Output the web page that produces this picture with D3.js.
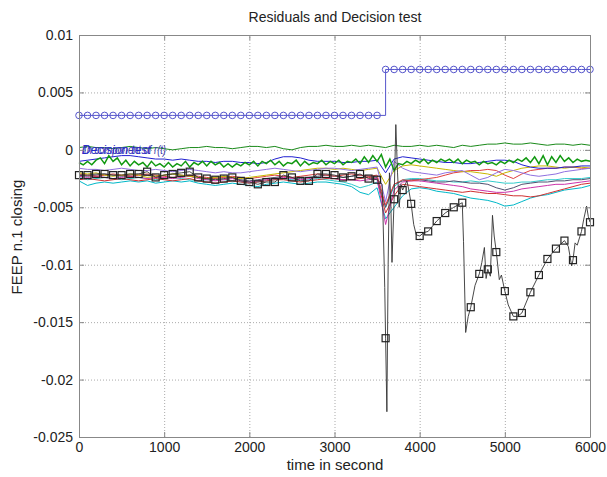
<!DOCTYPE html>
<html>
<head>
<meta charset="utf-8">
<script src="https://d3js.org/d3.v7.min.js"></script>
<style>
  body { margin: 0; background: #fff; }
  svg text { font-family: "Liberation Sans", Arial, sans-serif; }
</style>
</head>
<body>
<script>
// time base for the residual curves (every 100 s)
var timeSec = d3.range(0, 6001, 100);
// noisy green curve sampled every 50 s
var timeFine = d3.range(0, 6001, 50);

// decision test: 0.003 before the fault, 0.007 after
var decisionVal = timeSec.map(function(t){ return t < 3600 ? 0.003 : 0.007; });

var resDarkGreen = [0.0002,0.0003,0.0002,0.0002,0.0001,0.0002,0.0003,0.0002,0.0001,0.0002,
  0.0001,0.0000,0.0001,0.0002,0.0002,0.0003,0.0002,0.0002,0.0001,0.0002,
  0.0003,0.0003,0.0002,0.0003,0.0001,0.0000,0.0002,0.0003,0.0003,0.0004,
  0.0003,0.0003,0.0004,0.0003,0.0004,0.0003,0.0002,0.0004,0.0003,0.0003,
  0.0004,0.0003,0.0004,0.0003,0.0002,0.0004,0.0003,0.0004,0.0005,0.0005,
  0.0006,0.0005,0.0005,0.0006,0.0005,0.0004,0.0005,0.0005,0.0004,0.0005,0.0004];

var resGreen = [-0.0011,-0.0013,-0.0010,-0.0013,-0.0009,-0.0007,-0.0012,-0.0005,-0.0010,-0.0007,-0.0013,-0.0009,-0.0014,-0.0010,-0.0013,-0.0011,-0.0015,-0.0010,-0.0014,-0.0012,
  -0.0015,-0.0011,-0.0015,-0.0012,-0.0014,-0.0010,-0.0015,-0.0011,-0.0013,-0.0010,-0.0014,-0.0010,-0.0013,-0.0011,-0.0015,-0.0012,-0.0015,-0.0012,-0.0014,-0.0011,
  -0.0013,-0.0010,-0.0014,-0.0010,-0.0012,-0.0009,-0.0013,-0.0010,-0.0014,-0.0011,-0.0012,-0.0009,-0.0014,-0.0010,-0.0013,-0.0011,-0.0012,-0.0009,-0.0013,-0.0010,
  -0.0012,-0.0009,-0.0013,-0.0010,-0.0011,-0.0008,-0.0012,-0.0006,-0.0011,-0.0005,-0.0010,-0.0004,-0.0015,-0.0008,-0.0018,-0.0012,-0.0013,-0.0010,-0.0012,-0.0009,
  -0.0011,-0.0008,-0.0012,-0.0009,-0.0011,-0.0008,-0.0010,-0.0008,-0.0011,-0.0008,-0.0012,-0.0009,-0.0011,-0.0010,-0.0013,-0.0010,-0.0012,-0.0011,-0.0013,-0.0010,
  -0.0012,-0.0009,-0.0011,-0.0008,-0.0010,-0.0007,-0.0011,-0.0006,-0.0012,-0.0005,-0.0013,-0.0006,-0.0011,-0.0005,-0.0010,-0.0007,-0.0011,-0.0008,-0.0010,-0.0009,
  -0.0010];

var resBlue = [-0.0010,-0.0009,-0.0008,-0.0007,-0.0006,-0.0005,-0.0005,-0.0006,-0.0007,-0.0008,
  -0.0008,-0.0009,-0.0008,-0.0009,-0.0010,-0.0010,-0.0011,-0.0010,-0.0010,-0.0011,
  -0.0011,-0.0012,-0.0011,-0.0008,-0.0006,-0.0006,-0.0007,-0.0009,-0.0010,-0.0010,
  -0.0010,-0.0011,-0.0011,-0.0010,-0.0010,-0.0009,-0.0020,-0.0008,-0.0006,-0.0007,
  -0.0008,-0.0009,-0.0010,-0.0011,-0.0011,-0.0012,-0.0012,-0.0011,-0.0010,-0.0009,
  -0.0009,-0.0010,-0.0013,-0.0015,-0.0016,-0.0016,-0.0016,-0.0015,-0.0015,-0.0014,-0.0014];

var resPurple = [-0.0016,-0.0017,-0.0017,-0.0018,-0.0017,-0.0016,-0.0017,-0.0018,-0.0018,-0.0017,
  -0.0018,-0.0019,-0.0018,-0.0017,-0.0018,-0.0019,-0.0020,-0.0019,-0.0020,-0.0020,
  -0.0019,-0.0018,-0.0017,-0.0016,-0.0017,-0.0018,-0.0019,-0.0018,-0.0017,-0.0016,
  -0.0016,-0.0017,-0.0018,-0.0017,-0.0016,-0.0015,-0.0045,-0.0010,-0.0016,-0.0019,
  -0.0020,-0.0021,-0.0022,-0.0020,-0.0019,-0.0018,-0.0022,-0.0026,-0.0024,-0.0020,
  -0.0017,-0.0018,-0.0020,-0.0022,-0.0023,-0.0022,-0.0021,-0.0019,-0.0018,-0.0017,-0.0016];

var resYellow = [-0.0020,-0.0021,-0.0020,-0.0022,-0.0023,-0.0022,-0.0021,-0.0022,-0.0024,-0.0023,
  -0.0022,-0.0021,-0.0022,-0.0023,-0.0024,-0.0025,-0.0024,-0.0023,-0.0024,-0.0025,
  -0.0024,-0.0023,-0.0022,-0.0021,-0.0020,-0.0019,-0.0018,-0.0017,-0.0016,-0.0016,
  -0.0017,-0.0016,-0.0017,-0.0018,-0.0017,-0.0016,-0.0030,-0.0018,-0.0014,-0.0013,
  -0.0014,-0.0015,-0.0016,-0.0017,-0.0018,-0.0019,-0.0019,-0.0020,-0.0021,-0.0023,
  -0.0020,-0.0018,-0.0016,-0.0015,-0.0014,-0.0014,-0.0015,-0.0016,-0.0015,-0.0015,-0.0016];

var resRed = [-0.0026,-0.0025,-0.0026,-0.0027,-0.0026,-0.0025,-0.0026,-0.0027,-0.0026,-0.0025,
  -0.0026,-0.0027,-0.0026,-0.0025,-0.0027,-0.0028,-0.0029,-0.0028,-0.0027,-0.0028,
  -0.0029,-0.0028,-0.0027,-0.0026,-0.0026,-0.0027,-0.0028,-0.0027,-0.0026,-0.0025,
  -0.0025,-0.0026,-0.0026,-0.0025,-0.0024,-0.0025,-0.0055,-0.0040,-0.0030,-0.0031,
  -0.0032,-0.0033,-0.0034,-0.0035,-0.0036,-0.0037,-0.0036,-0.0037,-0.0038,-0.0038,
  -0.0039,-0.0040,-0.0040,-0.0041,-0.0040,-0.0038,-0.0036,-0.0034,-0.0032,-0.0030,-0.0029];

var resRed2 = [-0.0021,-0.0022,-0.0023,-0.0022,-0.0021,-0.0022,-0.0023,-0.0022,-0.0021,-0.0022,
  -0.0023,-0.0024,-0.0023,-0.0022,-0.0023,-0.0024,-0.0025,-0.0024,-0.0023,-0.0024,
  -0.0025,-0.0024,-0.0023,-0.0022,-0.0023,-0.0024,-0.0023,-0.0022,-0.0021,-0.0022,
  -0.0023,-0.0022,-0.0021,-0.0022,-0.0023,-0.0022,-0.0048,-0.0030,-0.0026,-0.0027,
  -0.0026,-0.0025,-0.0024,-0.0022,-0.0020,-0.0019,-0.0018,-0.0018,-0.0017,-0.0018,
  -0.0022,-0.0025,-0.0021,-0.0018,-0.0017,-0.0016,-0.0016,-0.0015,-0.0015,-0.0016,-0.0016];

var resCyan = [-0.0027,-0.0031,-0.0029,-0.0028,-0.0029,-0.0028,-0.0027,-0.0028,-0.0027,-0.0029,
  -0.0028,-0.0027,-0.0028,-0.0027,-0.0029,-0.0030,-0.0031,-0.0030,-0.0029,-0.0030,
  -0.0031,-0.0032,-0.0030,-0.0029,-0.0028,-0.0029,-0.0030,-0.0029,-0.0028,-0.0028,
  -0.0029,-0.0030,-0.0032,-0.0037,-0.0039,-0.0033,-0.0060,-0.0050,-0.0040,-0.0034,
  -0.0033,-0.0034,-0.0036,-0.0037,-0.0038,-0.0040,-0.0042,-0.0043,-0.0044,-0.0046,
  -0.0049,-0.0048,-0.0045,-0.0042,-0.0040,-0.0039,-0.0037,-0.0035,-0.0034,-0.0033,-0.0031];

var resCyan2 = [-0.0024,-0.0026,-0.0025,-0.0024,-0.0025,-0.0026,-0.0025,-0.0024,-0.0025,-0.0026,
  -0.0025,-0.0024,-0.0025,-0.0026,-0.0027,-0.0026,-0.0025,-0.0026,-0.0027,-0.0028,
  -0.0029,-0.0028,-0.0027,-0.0026,-0.0025,-0.0026,-0.0027,-0.0026,-0.0025,-0.0026,
  -0.0027,-0.0028,-0.0030,-0.0033,-0.0031,-0.0028,-0.0050,-0.0032,-0.0026,-0.0025,
  -0.0025,-0.0026,-0.0027,-0.0027,-0.0028,-0.0028,-0.0027,-0.0028,-0.0027,-0.0028,
  -0.0029,-0.0029,-0.0028,-0.0028,-0.0027,-0.0026,-0.0026,-0.0025,-0.0025,-0.0025,-0.0024];

var resMagenta = [-0.0023,-0.0024,-0.0023,-0.0024,-0.0025,-0.0024,-0.0023,-0.0024,-0.0025,-0.0024,
  -0.0024,-0.0025,-0.0024,-0.0023,-0.0025,-0.0026,-0.0027,-0.0026,-0.0025,-0.0027,
  -0.0028,-0.0027,-0.0026,-0.0025,-0.0024,-0.0025,-0.0026,-0.0025,-0.0024,-0.0024,
  -0.0025,-0.0026,-0.0026,-0.0027,-0.0026,-0.0025,-0.0065,-0.0035,-0.0028,-0.0027,
  -0.0027,-0.0028,-0.0029,-0.0030,-0.0031,-0.0032,-0.0034,-0.0035,-0.0036,-0.0037,
  -0.0037,-0.0036,-0.0034,-0.0033,-0.0032,-0.0031,-0.0030,-0.0030,-0.0029,-0.0028,-0.0027];

var resGrey = [-0.0022,-0.0023,-0.0022,-0.0021,-0.0022,-0.0023,-0.0022,-0.0021,-0.0022,-0.0023,
  -0.0022,-0.0021,-0.0022,-0.0023,-0.0024,-0.0025,-0.0024,-0.0023,-0.0024,-0.0026,
  -0.0027,-0.0026,-0.0025,-0.0024,-0.0023,-0.0024,-0.0025,-0.0024,-0.0023,-0.0022,
  -0.0023,-0.0024,-0.0023,-0.0022,-0.0023,-0.0024,-0.0050,-0.0030,-0.0027,-0.0026,
  -0.0026,-0.0027,-0.0028,-0.0028,-0.0027,-0.0028,-0.0029,-0.0029,-0.0030,-0.0033,
  -0.0035,-0.0033,-0.0030,-0.0029,-0.0028,-0.0028,-0.0027,-0.0027,-0.0026,-0.0026,-0.0025];

// black test statistic (square markers at every 100 s)
var blackTime = [0,100,200,300,400,500,600,700,800,900,1000,1100,1200,1300,1400,1500,1600,1700,1800,1900,
  2000,2100,2200,2300,2400,2500,2600,2700,2800,2900,3000,3100,3200,3300,3400,3500,
  3560,3590,3600,3615,3630,3645,3660,3675,3700,3720,3740,3760,3780,3800,3850,3870,3900,3930,3960,
  4000,4050,4100,4200,4300,4400,4500,4515,4540,4570,4600,4650,4700,4730,4760,4780,4800,4830,4855,4875,4900,
  4935,4960,5000,5040,5100,5150,5200,5300,5400,5500,5600,5700,5745,5785,5800,5825,5850,5900,5925,5960,5980,6000];
var blackVal = [-0.0022,-0.0022,-0.0021,-0.0021,-0.0022,-0.0022,-0.0021,-0.0021,-0.0019,-0.0024,
  -0.0022,-0.0021,-0.0020,-0.0019,-0.0024,-0.0025,-0.0026,-0.0025,-0.0024,-0.0027,
  -0.0028,-0.0030,-0.0028,-0.0028,-0.0022,-0.0024,-0.0027,-0.0027,-0.0021,-0.0021,
  -0.0022,-0.0024,-0.0023,-0.0021,-0.0025,-0.0026,
  -0.0030,-0.0120,-0.0164,-0.0228,-0.0100,-0.0020,-0.0040,-0.0098,-0.0043,0.0022,-0.0020,-0.0050,-0.0030,-0.0035,-0.0027,-0.0034,-0.0047,-0.0065,-0.0074,
  -0.0075,-0.0072,-0.0071,-0.0062,-0.0055,-0.0050,-0.0046,-0.0080,-0.0159,-0.0145,-0.0137,-0.0118,-0.0108,-0.0098,-0.0085,-0.0112,-0.0104,-0.0110,-0.0057,-0.0075,-0.0089,
  -0.0113,-0.0109,-0.0123,-0.0135,-0.0145,-0.0145,-0.0142,-0.0124,-0.0109,-0.0095,-0.0086,-0.0079,-0.0084,-0.0101,-0.0096,-0.0081,-0.0083,-0.0071,-0.0061,-0.0049,-0.0058,-0.0063];

var xTicks = [0,1000,2000,3000,4000,5000,6000];
var yTicks = [0.01,0.005,0,-0.005,-0.01,-0.015,-0.02,-0.025];

var W = 607, H = 477;
var margin = {top: 35, left: 79, right: 17, bottom: 40};
var svg = d3.select("body").append("svg").attr("width", W).attr("height", H);

var x = d3.scaleLinear().domain([0, 6000]).range([margin.left, W - margin.right]);
var y = d3.scaleLinear().domain([-0.025, 0.01]).range([H - margin.bottom, margin.top]);

function fmtY(d){ return d === 0 ? "0" : String(+d.toFixed(3)); }

// grid
svg.append("g").attr("transform", "translate(0," + y.range()[0] + ")")
  .call(d3.axisBottom(x).tickValues(xTicks).tickSize(-(y.range()[0] - y.range()[1])).tickFormat(""))
  .call(function(g){ g.select(".domain").remove();
    g.selectAll("line").attr("stroke", "#aaa").attr("stroke-dasharray", "1,2"); });
svg.append("g").attr("transform", "translate(" + x.range()[0] + ",0)")
  .call(d3.axisLeft(y).tickValues(yTicks).tickSize(-(x.range()[1] - x.range()[0])).tickFormat(""))
  .call(function(g){ g.select(".domain").remove();
    g.selectAll("line").attr("stroke", "#aaa").attr("stroke-dasharray", "1,2"); });

var plot = svg.append("g");
var line = d3.line().x(function(d){ return x(d[0]); }).y(function(d){ return y(d[1]); });

var residuals = [
  {v: resCyan2, c: "#33cccc"},
  {v: resCyan, c: "#00b8c8"},
  {v: resRed, c: "#d03030"},
  {v: resMagenta, c: "#cc33aa"},
  {v: resGrey, c: "#505070"},
  {v: resRed2, c: "#e04040"},
  {v: resYellow, c: "#c8b800"},
  {v: resPurple, c: "#9070e0"},
  {v: resBlue, c: "#2020d0"},
  {v: resDarkGreen, c: "#1a8a1a"}
];
residuals.forEach(function(s){
  plot.append("path")
    .datum(timeSec.map(function(t, i){ return [t, s.v[i]]; }))
    .attr("d", line).attr("fill", "none").attr("stroke", s.c).attr("stroke-width", 1);
});
plot.append("path")
  .datum(timeFine.map(function(t, i){ return [t, resGreen[i]]; }))
  .attr("d", line).attr("fill", "none").attr("stroke", "#119911").attr("stroke-width", 1.5);

// black statistic + squares
var blackPts = blackTime.map(function(t, i){ return [t, blackVal[i]]; });
plot.append("path").datum(blackPts).attr("d", line)
  .attr("fill", "none").attr("stroke", "#333").attr("stroke-width", 0.9);
plot.selectAll("rect.sq")
  .data(blackPts.filter(function(d){ return d[0] % 100 === 0; }))
  .enter().append("rect").attr("class", "sq")
  .attr("x", function(d){ return x(d[0]) - 3.5; })
  .attr("y", function(d){ return y(d[1]) - 3.5; })
  .attr("width", 7).attr("height", 7)
  .attr("fill", "none").attr("stroke", "#222").attr("stroke-width", 1.2);

// decision test
var decPts = timeSec.map(function(t, i){ return [t, decisionVal[i]]; });
plot.append("path").datum(decPts).attr("d", d3.line().curve(d3.curveStepAfter)
    .x(function(d){ return x(d[0]); }).y(function(d){ return y(d[1]); }))
  .attr("fill", "none").attr("stroke", "#5555cc").attr("stroke-width", 1);
plot.selectAll("circle.dec").data(decPts).enter().append("circle").attr("class", "dec")
  .attr("cx", function(d){ return x(d[0]); })
  .attr("cy", function(d){ return y(d[1]); })
  .attr("r", 3.3).attr("fill", "none").attr("stroke", "#5555cc").attr("stroke-width", 1);

// in-plot labels (overlapping, as in the original figure)
svg.append("text").attr("x", x(0) + 3).attr("y", y(0) + 4)
  .attr("font-size", 12).attr("font-style", "italic").attr("fill", "#3a3aaa")
  .attr("textLength", 84).attr("lengthAdjust", "spacingAndGlyphs")
  .text("ith component of r(t)");
svg.append("text").attr("x", x(0) + 3).attr("y", y(0) + 4)
  .attr("font-size", 12).attr("font-style", "italic").attr("fill", "#2828c8")
  .text("Decision test");

// axes frame with inward ticks
function styleAxis(g){
  g.select(".domain").attr("stroke", "#888");
  g.selectAll(".tick line").attr("stroke", "#888");
  g.selectAll("text").attr("font-size", 14).attr("fill", "#222")
    .attr("font-family", "Liberation Sans, Arial, sans-serif");
}
svg.append("g").attr("transform", "translate(0," + y.range()[0] + ")")
  .call(d3.axisBottom(x).tickValues(xTicks).tickSizeInner(-5).tickSizeOuter(0).tickPadding(5).tickFormat(d3.format("d")))
  .call(styleAxis);
svg.append("g").attr("transform", "translate(0," + y.range()[1] + ")")
  .call(d3.axisTop(x).tickValues(xTicks).tickSizeInner(-5).tickSizeOuter(0).tickFormat(""))
  .call(styleAxis);
svg.append("g").attr("transform", "translate(" + x.range()[0] + ",0)")
  .call(d3.axisLeft(y).tickValues(yTicks).tickSizeInner(-5).tickSizeOuter(0).tickPadding(6).tickFormat(fmtY))
  .call(styleAxis);
svg.append("g").attr("transform", "translate(" + x.range()[1] + ",0)")
  .call(d3.axisRight(y).tickValues(yTicks).tickSizeInner(-5).tickSizeOuter(0).tickFormat(""))
  .call(styleAxis);

// titles
svg.append("text").attr("x", 335).attr("y", 22).attr("text-anchor", "middle")
  .attr("font-size", 14).attr("fill", "#222").text("Residuals and Decision test");
svg.append("text").attr("x", 335).attr("y", 470).attr("text-anchor", "middle")
  .attr("font-size", 15).attr("fill", "#222").text("time in second");
svg.append("text").attr("transform", "translate(22,237) rotate(-90)").attr("text-anchor", "middle")
  .attr("font-size", 15).attr("fill", "#222").text("FEEP n.1 closing");
</script>
</body>
</html>
